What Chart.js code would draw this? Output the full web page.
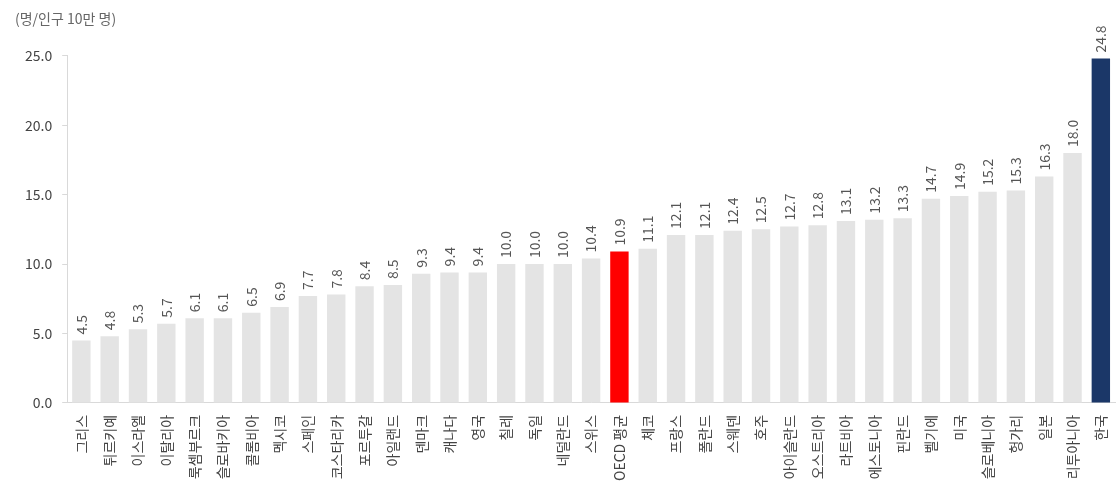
<!DOCTYPE html>
<html>
<head>
<meta charset="utf-8">
<script src="https://cdn.jsdelivr.net/npm/chart.js@4.4.1/dist/chart.umd.min.js"></script>
<style>
html,body{margin:0;padding:0;background:#fff;}
#wrap{width:1117px;height:502px;position:relative;}
</style>
</head>
<body>
<div id="wrap"><canvas id="c" width="1117" height="502"></canvas></div>
<script>
const categories = ["그리스","튀르키예","이스라엘","이탈리아","룩셈부르크","슬로바키아","콜롬비아","멕시코","스페인","코스타리카","포르투갈","아일랜드","덴마크","캐나다","영국","칠레","독일","네덜란드","스위스","OECD 평균","체코","프랑스","폴란드","스웨덴","호주","아이슬란드","오스트리아","라트비아","에스토니아","핀란드","벨기에","미국","슬로베니아","헝가리","일본","리투아니아","한국"];
const values = [4.5,4.8,5.3,5.7,6.1,6.1,6.5,6.9,7.7,7.8,8.4,8.5,9.3,9.4,9.4,10.0,10.0,10.0,10.4,10.9,11.1,12.1,12.1,12.4,12.5,12.7,12.8,13.1,13.2,13.3,14.7,14.9,15.2,15.3,16.3,18.0,24.8];
const yTicks = [0,5,10,15,20,25];
const unitLabel = "(명/인구 10만 명)";

const FONT = "'Noto Sans CJK KR', 'Noto Sans', sans-serif";
const colors = categories.map(c => c === "OECD 평균" ? "#ff0000" : (c === "한국" ? "#1b3768" : "#e4e4e4"));

const valueLabels = {
  id: 'valueLabels',
  afterDatasetsDraw(chart) {
    const ctx = chart.ctx;
    const meta = chart.getDatasetMeta(0);
    ctx.save();
    ctx.font = "14px " + FONT;
    ctx.fillStyle = "#555";
    ctx.textAlign = "left";
    ctx.textBaseline = "middle";
    meta.data.forEach((bar, i) => {
      ctx.save();
      ctx.translate(bar.x, bar.y - 6);
      ctx.rotate(-Math.PI / 2);
      ctx.fillText(values[i].toFixed(1), 0, 0);
      ctx.restore();
    });
    ctx.restore();
  }
};

new Chart(document.getElementById('c'), {
  type: 'bar',
  data: {
    labels: categories,
    datasets: [{
      data: values,
      backgroundColor: colors,
      barPercentage: 0.65,
      categoryPercentage: 1.0
    }]
  },
  options: {
    responsive: false,
    animation: false,
    layout: { padding: { left: 15, right: 2, top: 0, bottom: 17 } },
    plugins: {
      legend: { display: false },
      tooltip: { enabled: false },
      title: {
        display: true,
        text: unitLabel,
        align: 'start',
        color: '#666',
        font: { family: FONT, size: 14, weight: 'normal' },
        padding: { top: 10, bottom: 29 }
      }
    },
    scales: {
      x: {
        afterFit(scale) { scale.paddingRight = 0; },
        grid: { display: false },
        border: { display: true, color: '#d9d9d9' },
        ticks: {
          color: '#444',
          font: { family: FONT, size: 14 },
          minRotation: 90,
          maxRotation: 90,
          autoSkip: false,
          padding: 4
        }
      },
      y: {
        min: 0,
        max: 25,
        afterBuildTicks(axis) { axis.ticks = yTicks.map(v => ({ value: v })); },
        grid: { drawOnChartArea: false, tickLength: 5, color: '#d9d9d9' },
        border: { display: true, color: '#d9d9d9' },
        ticks: {
          color: '#444',
          font: { family: FONT, size: 14 },
          padding: 10,
          callback: v => Number(v).toFixed(1)
        }
      }
    }
  },
  plugins: [valueLabels]
});
</script>
</body>
</html>
